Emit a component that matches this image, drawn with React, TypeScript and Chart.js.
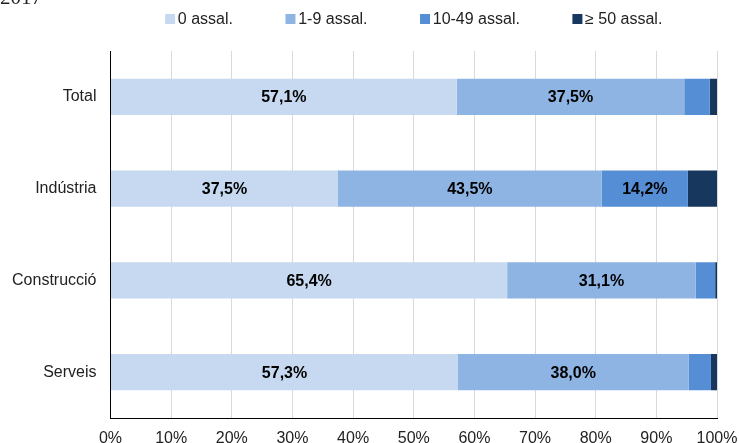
import React, { useEffect, useRef } from "react";
import { Chart, registerables } from "chart.js";

Chart.register(...registerables);

const categories = ["Total", "Indústria", "Construcció", "Serveis"];
const seriesNames = ["0 assal.", "1-9 assal.", "10-49 assal.", "≥ 50 assal."];
const zeroEmployees = [57.1, 37.5, 65.4, 57.3];
const oneToNine = [37.5, 43.5, 31.1, 38.0];
const tenToFortyNine = [4.2, 14.2, 3.2, 3.7];
const fiftyPlus = [1.2, 4.8, 0.3, 1.0];
const xTicks = [0, 10, 20, 30, 40, 50, 60, 70, 80, 90, 100];
const yearLabel = "2017";

const colors = ["#c6d9f1", "#8eb4e3", "#558ed5", "#17375e"];
const FONT = "'Liberation Sans', Arial, sans-serif";

const fmt = (v: number) => v.toFixed(1).replace(".", ",") + "%";

const labelsPlugin = {
  id: "segLabels",
  afterDatasetsDraw(chart: any) {
    const ctx = chart.ctx;
    ctx.save();
    ctx.font = `bold 16px ${FONT}`;
    ctx.fillStyle = "#000";
    ctx.textAlign = "center";
    ctx.textBaseline = "middle";
    chart.data.datasets.forEach((ds: any, di: number) => {
      const meta = chart.getDatasetMeta(di);
      meta.data.forEach((el: any, i: number) => {
        const v = ds.data[i];
        if (v >= 10) {
          const cx = (el.x + el.base) / 2;
          ctx.fillText(fmt(v), cx, el.y + 1);
        }
      });
    });
    ctx.restore();
  },
};

const legendPlugin = {
  id: "customLegend",
  afterDraw(chart: any) {
    const ctx = chart.ctx;
    const area = chart.chartArea;
    ctx.save();
    ctx.font = `16px ${FONT}`;
    const box = 10;
    const gapBoxText = 2.7;
    const gapItems = 52.5;
    const widths = seriesNames.map((n) => ctx.measureText(n).width);
    const total =
      widths.reduce((a, w) => a + box + gapBoxText + w, 0) + gapItems * (seriesNames.length - 1);
    let x = (area.left + area.right) / 2 - total / 2;
    const cy = 19;
    ctx.textBaseline = "middle";
    ctx.textAlign = "left";
    seriesNames.forEach((n, i) => {
      ctx.fillStyle = colors[i];
      ctx.fillRect(x, cy - 5, box, box);
      ctx.fillStyle = "#222";
      ctx.fillText(n, x + box + gapBoxText, cy + 1);
      x += box + gapBoxText + widths[i] + gapItems;
    });
    // cropped year label at top-left
    ctx.font = `21px 'Liberation Serif', 'Times New Roman', serif`;
    ctx.textBaseline = "alphabetic";
    ctx.fillStyle = "#222";
    ctx.fillText(yearLabel, 0, 3.5);
    ctx.restore();
  },
};

export default function App() {
  const ref = useRef<HTMLCanvasElement>(null);
  useEffect(() => {
    if (!ref.current) return;
    const seriesData = [zeroEmployees, oneToNine, tenToFortyNine, fiftyPlus];
    const chart = new Chart(ref.current, {
      type: "bar",
      data: {
        labels: categories,
        datasets: seriesNames.map((name, i) => ({
          label: name,
          data: seriesData[i],
          backgroundColor: colors[i],
          borderWidth: 0,
          categoryPercentage: 1,
          barPercentage: 0.395,
        })),
      },
      options: {
        indexAxis: "y",
        animation: false,
        responsive: false,
        maintainAspectRatio: false,
        devicePixelRatio: 1,
        layout: { padding: { top: 51, right: 22, bottom: 0, left: 0 } },
        plugins: {
          legend: { display: false },
          title: { display: false },
          tooltip: { enabled: false },
        },
        scales: {
          x: {
            stacked: true,
            min: 0,
            max: 100,
            afterBuildTicks: (scale: any) => {
              scale.ticks = xTicks.map((v) => ({ value: v }));
            },
            afterFit: (scale: any) => {
              scale.height = 25;
              scale.paddingLeft = 0;
              scale.paddingRight = 0;
            },
            ticks: {
              color: "#222",
              font: { family: FONT, size: 16 },
              padding: 11,
              callback: (v: any) => v + "%",
              maxRotation: 0,
              autoSkip: false,
            },
            grid: { color: "#d9d9d9", lineWidth: 1, drawTicks: false },
            border: { display: true, color: "#000", width: 1 },
          },
          y: {
            stacked: true,
            afterFit: (scale: any) => {
              scale.width = 110.5;
              scale.paddingTop = 0;
              scale.paddingBottom = 0;
            },
            ticks: {
              color: "#222",
              font: { family: FONT, size: 16 },
              padding: 14,
            },
            grid: { display: false, drawTicks: false },
            border: { display: true, color: "#000", width: 1 },
          },
        },
      },
      plugins: [labelsPlugin, legendPlugin],
    });
    return () => chart.destroy();
  }, []);
  return (
    <div style={{ position: "fixed", left: 0, top: 0, width: 739, height: 443, background: "#fff" }}>
      <canvas ref={ref} width={739} height={443} style={{ width: 739, height: 443, display: "block" }} />
    </div>
  );
}
